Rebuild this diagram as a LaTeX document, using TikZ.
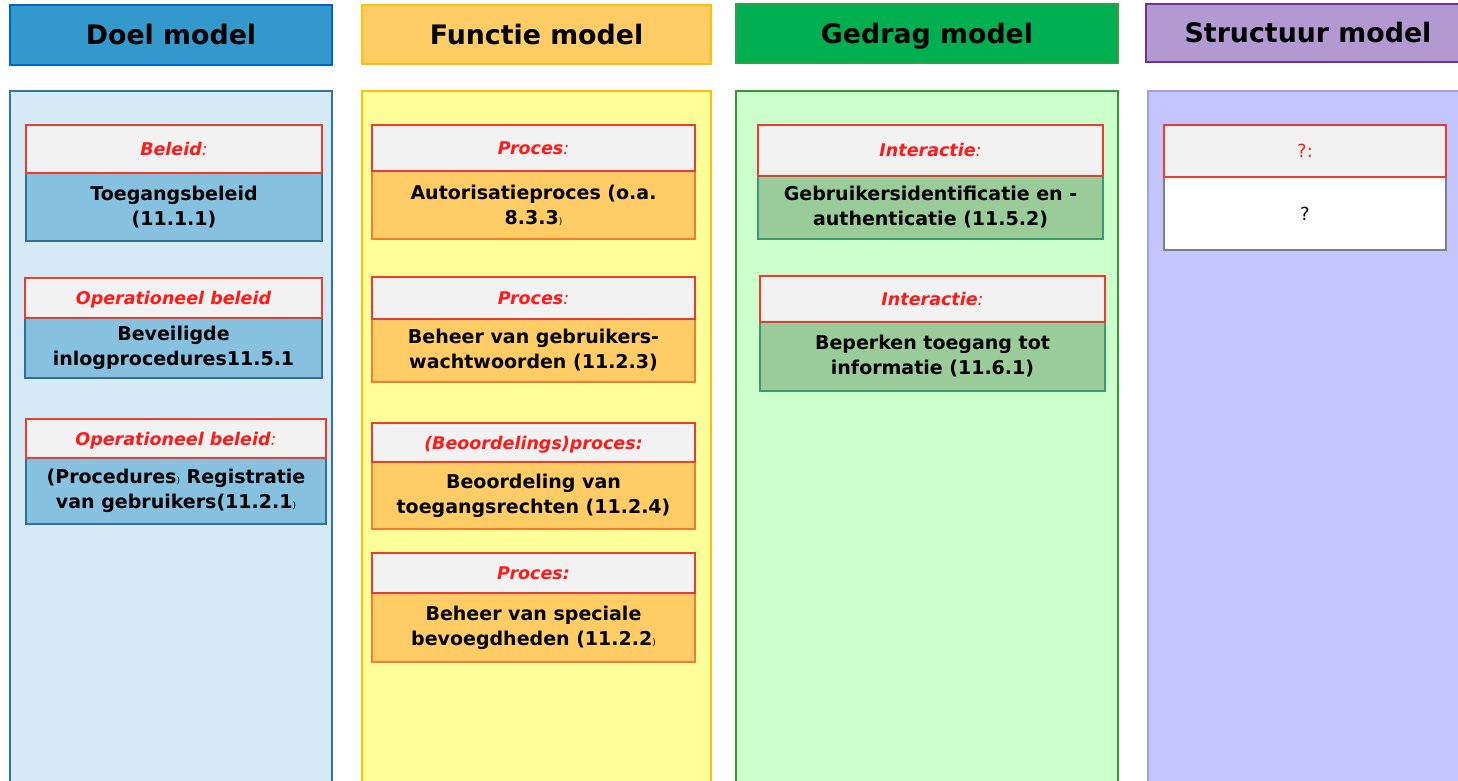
\documentclass[tikz,border=0pt]{standalone}
\usepackage{fontspec}
\setmainfont{DejaVu Sans}
\begin{document}
\begin{tikzpicture}[x=1pt,y=-1pt,
  headbox/.style={draw, line width=2pt, inner sep=0pt, text height=20pt, text depth=0pt,
    font=\fontsize{26.8}{30}\selectfont\bfseries},
  colbox/.style={line width=2pt},
  lbl/.style={draw=lblred, fill=lblgray, line width=2pt, inner sep=0pt, text=txtred,
    text height=13pt, text depth=0pt,
    font=\fontsize{17.5}{22}\selectfont\bfseries\itshape},
  body/.style={draw, line width=2pt, inner sep=0pt, align=center,
    font=\fontsize{19}{25}\selectfont\bfseries},
  doelbody/.style={body, draw=doelbodyline, fill=doelbodyfill},
  funcbody/.style={body, draw=funcbodyline, fill=funcbodyfill},
  gedragbody/.style={body, draw=gedragbodyline, fill=gedragbodyfill},
  structbody/.style={body, draw=structbodyline, fill=white, font=\fontsize{18}{25}\selectfont}
]
\definecolor{lblred}{HTML}{EE3B2F}
\definecolor{lblgray}{HTML}{F2F2F2}
\definecolor{txtred}{HTML}{FF1A1A}
\definecolor{doelhead}{HTML}{3399CC}
\definecolor{doelheadline}{HTML}{0066CC}
\definecolor{doelcol}{HTML}{D6EAF5}
\definecolor{doelcolline}{HTML}{31749F}
\definecolor{doelbodyfill}{HTML}{86C1E0}
\definecolor{doelbodyline}{HTML}{2F6F99}
\definecolor{funchead}{HTML}{FFCC66}
\definecolor{funcheadline}{HTML}{FFC000}
\definecolor{funccol}{HTML}{FFFF99}
\definecolor{funccolline}{HTML}{FFC000}
\definecolor{funcbodyfill}{HTML}{FFCC66}
\definecolor{funcbodyline}{HTML}{F47B30}
\definecolor{gedraghead}{HTML}{00B050}
\definecolor{gedragheadline}{HTML}{3A9A4A}
\definecolor{gedragcol}{HTML}{CCFFCC}
\definecolor{gedragcolline}{HTML}{339933}
\definecolor{gedragbodyfill}{HTML}{99CC99}
\definecolor{gedragbodyline}{HTML}{3D9970}
\definecolor{structhead}{HTML}{B299D1}
\definecolor{structheadline}{HTML}{7030A0}
\definecolor{structcol}{HTML}{C4C4FF}
\definecolor{structcolline}{HTML}{A0A0F0}
\definecolor{structbodyline}{HTML}{808080}

\useasboundingbox (0,0) rectangle (1458,781);
\clip (0,0) rectangle (1458,781);
\fill[white] (0,0) rectangle (1458,781);

% column backgrounds
\draw[colbox, draw=doelcolline, fill=doelcol] (10,91) rectangle (332,800);
\draw[colbox, draw=funccolline, fill=funccol] (362,91) rectangle (711,800);
\draw[colbox, draw=gedragcolline, fill=gedragcol] (736,91) rectangle (1118,800);
\draw[colbox, draw=structcolline, fill=structcol] (1148,91) rectangle (1470,800);

% column headers
\node[headbox, draw=doelheadline, fill=doelhead, minimum width=322, minimum height=60] (hdoel) at (171,35) {Doel model};
\node[headbox, draw=funcheadline, fill=funchead, minimum width=349, minimum height=59] (hfunc) at (536.5,34.5) {Functie model};
\node[headbox, draw=gedragheadline, fill=gedraghead, minimum width=382, minimum height=59] (hgedrag) at (927,33.5) {Gedrag model};
\node[headbox, draw=structheadline, fill=structhead, minimum width=330, minimum height=58, anchor=west] (hstruct) at (1145,33) {};
\node[headbox, draw=none] (hstructtxt) at (1308,33) {Structuur model};

% Doel model
\node[doelbody, minimum width=296, minimum height=68] (d1b) at (174,207) {Toegangsbeleid\\(11.1.1)};
\node[lbl, minimum width=296, minimum height=48] (d1l) at (174,149) {Beleid\textmd{:}};
\node[doelbody, minimum width=297, minimum height=60] (d2b) at (173.5,348) {Beveiligde\\inlogprocedures11.5.1};
\node[lbl, minimum width=297, minimum height=40] (d2l) at (173.5,298) {Operationeel beleid};
\node[doelbody, minimum width=300, minimum height=66] (d3b) at (176,491) {(Procedures{\mdseries\small)} Registratie\\van gebruikers(11.2.1{\mdseries\small)}};
\node[lbl, minimum width=300, minimum height=39] (d3l) at (176,438.5) {Operationeel beleid\textmd{:}};

% Functie model
\node[funcbody, minimum width=323, minimum height=68] (f1b) at (533.5,205) {Autorisatieproces (o.a.\\8.3.3{\mdseries\small)}};
\node[lbl, minimum width=323, minimum height=46] (f1l) at (533.5,148) {Proces\textmd{:}};
\node[funcbody, minimum width=323, minimum height=63] (f2b) at (533.5,350.5) {Beheer van gebruikers-\\wachtwoorden (11.2.3)};
\node[lbl, minimum width=323, minimum height=42] (f2l) at (533.5,298) {Proces\textmd{:}};
\node[funcbody, minimum width=323, minimum height=67] (f3b) at (533.5,495.5) {Beoordeling van\\toegangsrechten (11.2.4)};
\node[lbl, minimum width=323, minimum height=39] (f3l) at (533.5,442.5) {(Beoordelings)proces:};
\node[funcbody, minimum width=323, minimum height=69] (f4b) at (533.5,627.5) {Beheer van speciale\\bevoegdheden (11.2.2{\mdseries\small)}};
\node[lbl, minimum width=323, minimum height=40] (f4l) at (533.5,573) {Proces:};

% Gedrag model
\node[gedragbody, minimum width=345, minimum height=63] (g1b) at (930.5,207.5) {Gebruikersidentificatie en -\\authenticatie (11.5.2)};
\node[lbl, minimum width=345, minimum height=51] (g1l) at (930.5,150.5) {Interactie\textmd{:}};
\node[gedragbody, minimum width=345, minimum height=69] (g2b) at (932.5,356.5) {Beperken toegang tot\\informatie (11.6.1)};
\node[lbl, minimum width=345, minimum height=46] (g2l) at (932.5,299) {Interactie\textmd{:}};

% Structuur model
\node[structbody, minimum width=282, minimum height=73] (s1b) at (1305,213.5) {?};
\node[lbl, minimum width=282, minimum height=52, font=\fontsize{18}{22}\selectfont] (s1l) at (1305,151) {?:};
\end{tikzpicture}
\end{document}
